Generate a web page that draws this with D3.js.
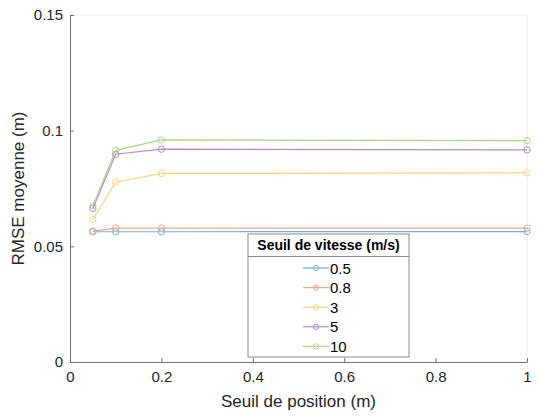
<!DOCTYPE html>
<html><head><meta charset="utf-8">
<script src="https://cdn.jsdelivr.net/npm/d3@7"></script>
<style>body{margin:0;background:#fff;} text{font-family:"Liberation Sans",Arial,sans-serif;}</style>
</head><body>
<svg id="c" width="540" height="416"></svg>
<script>
const xVals = [0.05, 0.1, 0.2, 1];
const seriesNames = ["0.5", "0.8", "3", "5", "10"];
const s05 = [0.0563, 0.0563, 0.0563, 0.0564];
const s08 = [0.0566, 0.0579, 0.0579, 0.0579];
const s3  = [0.0615, 0.0777, 0.0815, 0.0818];
const s5  = [0.0664, 0.0898, 0.0920, 0.0917];
const s10 = [0.0675, 0.0915, 0.0960, 0.0957];
const colors = ["#76b3e0", "#f2a88a", "#f6d47e", "#b68ac8", "#aed48c"];
const xTicks = [0, 0.2, 0.4, 0.6, 0.8, 1];
const xTickLabels = ["0", "0.2", "0.4", "0.6", "0.8", "1"];
const yTicks = [0, 0.05, 0.1, 0.15];
const yTickLabels = ["0", "0.05", "0.1", "0.15"];
const allSeries = [s05, s08, s3, s5, s10];

const svg = d3.select("#c");
const L = 70, R = 527, T = 15, B = 362;
const x = d3.scaleLinear().domain([0, 1]).range([L, R]);
const y = d3.scaleLinear().domain([0, 0.15]).range([B, T]);
const axisCol = "#707070", textCol = "#262626";

// box top/right light
svg.append("line").attr("x1", L).attr("x2", R).attr("y1", T).attr("y2", T).attr("stroke", "#ececec");
svg.append("line").attr("x1", R).attr("x2", R).attr("y1", T).attr("y2", B).attr("stroke", "#ececec");

const xAxis = svg.append("g").attr("transform", `translate(0,${B})`)
  .call(d3.axisBottom(x).tickValues(xTicks).tickFormat((d, i) => xTickLabels[i]).tickSizeInner(-4).tickSizeOuter(0).tickPadding(9));
const yAxis = svg.append("g").attr("transform", `translate(${L},0)`)
  .call(d3.axisLeft(y).tickValues(yTicks).tickFormat((d, i) => yTickLabels[i]).tickSizeInner(-4).tickSizeOuter(0).tickPadding(7));
[xAxis, yAxis].forEach(g => {
  g.select(".domain").attr("stroke", axisCol);
  g.selectAll(".tick line").attr("stroke", axisCol);
  g.selectAll("text").attr("fill", textCol).style("font-size", "15px").style("font-family", "Liberation Sans, Arial, sans-serif");
});

svg.append("text").attr("x", (L + R) / 2).attr("y", 407).attr("text-anchor", "middle")
  .attr("fill", textCol).style("font-size", "17px").text("Seuil de position (m)");
svg.append("text").attr("transform", `translate(24,${(T + B) / 2}) rotate(-90)`).attr("text-anchor", "middle")
  .attr("fill", textCol).style("font-size", "17px").text("RMSE moyenne (m)");

const line = d3.line().x((d, i) => x(xVals[i])).y(d => y(d));
allSeries.forEach((s, k) => {
  const g = svg.append("g");
  g.append("path").attr("d", line(s)).attr("fill", "none").attr("stroke", colors[k]).attr("stroke-width", 1.2);
  g.selectAll("circle").data(s).join("circle")
    .attr("cx", (d, i) => x(xVals[i])).attr("cy", d => y(d)).attr("r", 3.2)
    .attr("fill", "none").attr("stroke", colors[k]).attr("stroke-width", 1);
});

// legend
const lg = svg.append("g");
const lx = 248, ly = 234, lw = 161, lh = 123;
lg.append("rect").attr("x", lx).attr("y", ly).attr("width", lw).attr("height", lh)
  .attr("fill", "#fff").attr("stroke", "#8a8a8a").attr("stroke-width", 1);
lg.append("line").attr("x1", lx).attr("x2", lx + lw).attr("y1", 256.5).attr("y2", 256.5).attr("stroke", "#8a8a8a");
lg.append("text").attr("x", lx + lw / 2).attr("y", 250).attr("text-anchor", "middle")
  .attr("fill", "#000").style("font-size", "14px").style("font-weight", "bold").text("Seuil de vitesse (m/s)");
seriesNames.forEach((n, k) => {
  const yy = 268 + k * 19.6;
  lg.append("line").attr("x1", 303).attr("x2", 329).attr("y1", yy).attr("y2", yy).attr("stroke", colors[k]).attr("stroke-width", 1.2);
  lg.append("circle").attr("cx", 316).attr("cy", yy).attr("r", 2.6).attr("fill", "none").attr("stroke", colors[k]);
  lg.append("text").attr("x", 330).attr("y", yy + 5.5).attr("fill", "#000").style("font-size", "15px").text(n);
});
</script>
</body></html>
